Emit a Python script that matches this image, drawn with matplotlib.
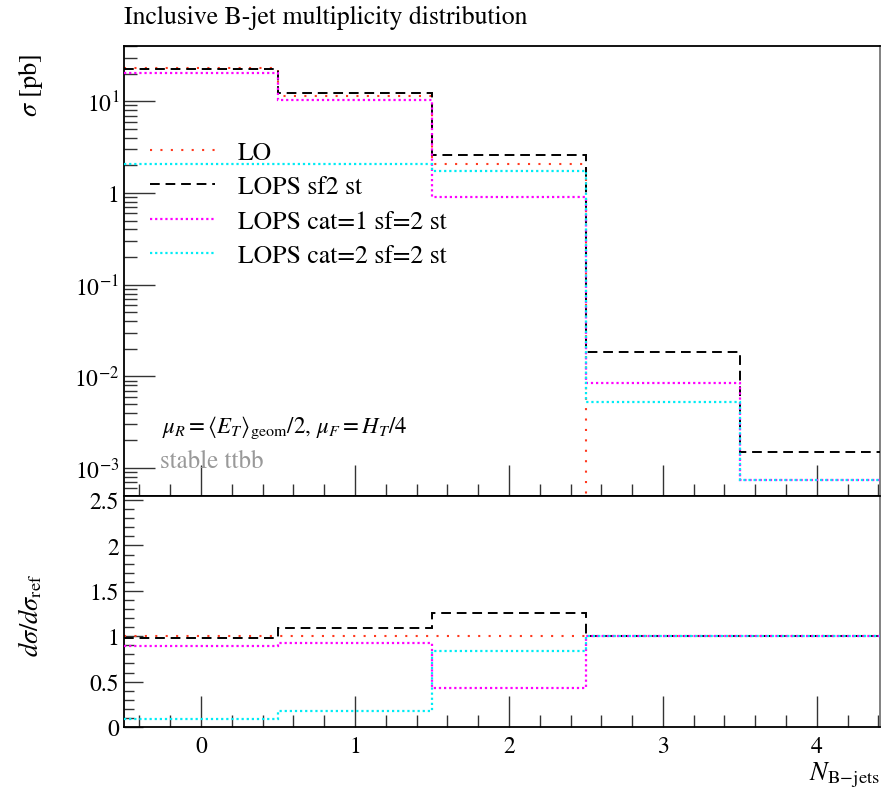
import numpy as np
import matplotlib
matplotlib.use("Agg")
import matplotlib.pyplot as plt
from matplotlib.ticker import FixedLocator, FuncFormatter, MultipleLocator, LogLocator, NullFormatter

plt.rcParams['font.family'] = ['STIXGeneral', 'DejaVu Serif']
plt.rcParams['mathtext.fontset'] = 'stix'

# ---- data ----
edges = [-0.5, 0.5, 1.5, 2.5, 3.5, 4.5]
xticks = [0, 1, 2, 3, 4]
labels = ["LO", "LOPS sf2 st", "LOPS cat=1 sf=2 st", "LOPS cat=2 sf=2 st"]
lo = [22.8, 11.3, 2.07, 0.0, 0.0]
lops_sf2 = [22.4, 12.3, 2.59, 0.0185, 0.00148]
lops_cat1 = [20.4, 10.4, 0.90, 0.0084, 0.000745]
lops_cat2 = [2.05, 2.05, 1.73, 0.00528, 0.000745]

series = [lo, lops_sf2, lops_cat1, lops_cat2]
colors = ['#ff3a1f', 'black', '#ff00ff', '#00ecf5']
styles = [(0, (1, 4)), (0, (5, 3)), (0, (1, 1.3)), (0, (1, 1.3))]
lws = [1.5, 1.4, 1.6, 1.6]

W, H = 892, 803
fig = plt.figure(figsize=(W / 100, H / 100), dpi=100)
L, R = 124, 880
T1, B1, B2 = 47, 497, 728
ax = fig.add_axes([L / W, 1 - B1 / H, (R - L) / W, (B1 - T1) / H])
rax = fig.add_axes([L / W, 1 - B2 / H, (R - L) / W, (B2 - B1) / H], sharex=ax)

ref = np.array(lo, dtype=float)
for i, (vals, c, ls, lw, lab) in enumerate(zip(series, colors, styles, lws, labels)):
    v = np.array(vals, dtype=float)
    vplot = np.where(v > 0, v, 1e-12)
    ax.stairs(vplot, edges, color=c, linestyle=ls, linewidth=lw, label=lab,
              zorder=2 + i, baseline=None)
    ratio = np.where(ref > 0, v / np.where(ref > 0, ref, 1), 1.0)
    rax.stairs(ratio, edges, color=c, linestyle=ls, linewidth=lw, zorder=2 + i,
               baseline=None)

ax.set_yscale('log')
ax.set_ylim(4.96e-4, 40.1)
ax.set_xlim(-0.5, 4.41)
rax.set_ylim(0, 2.545)

def logfmt(y, pos):
    e = int(round(np.log10(y)))
    if e == 0:
        return "1"
    return r"$10^{%d}$" % e

ax.yaxis.set_major_locator(LogLocator(base=10, numticks=20))
ax.yaxis.set_major_formatter(FuncFormatter(logfmt))
ax.yaxis.set_minor_locator(LogLocator(base=10, subs=np.arange(2, 10), numticks=50))
ax.yaxis.set_minor_formatter(NullFormatter())

for a in (ax, rax):
    a.xaxis.set_major_locator(FixedLocator(xticks))
    a.xaxis.set_minor_locator(MultipleLocator(0.2))
    a.tick_params(which='both', direction='in', top=False, right=False, labelsize=17, color='#333333')
    a.tick_params(which='major', length=22, width=1.0)
    a.tick_params(which='minor', length=9, width=1.0)
    for s in a.spines.values():
        s.set_linewidth(1.3)
    a.spines['right'].set_color('#777777')
plt.setp(ax.get_xticklabels(), visible=False)
rax.yaxis.set_major_locator(MultipleLocator(0.5))
rax.yaxis.set_minor_locator(MultipleLocator(0.1))
rax.tick_params(axis='y', which='major', length=14)
rax.tick_params(axis='y', which='minor', length=7)
rax.yaxis.set_major_formatter(FuncFormatter(lambda y, p: ("%g" % y)))
rax.tick_params(axis='x', pad=6)

ax.set_ylabel(r"$\sigma$ [pb]", fontsize=19, loc='top')
rax.set_ylabel(r"$d\sigma/d\sigma_{\mathrm{ref}}$", fontsize=19)
ax.yaxis.set_label_coords(-0.105, 0.985)
rax.yaxis.set_label_coords(-0.105, 0.49)
rax.set_xlabel(r"$N_{\mathrm{B\!-\!jets}}$", fontsize=19, loc='right', labelpad=2)

fig.text(L / W, 1 - 18 / H, "Inclusive B-jet multiplicity distribution", fontsize=18.5, va='center', ha='left')

ax.text(0.05, 1 - (428 - T1) / (B1 - T1),
        r"$\mu_R = \langle E_T\rangle_{\mathrm{geom}}/2,\, \mu_F = H_T/4$",
        transform=ax.transAxes, fontsize=16.5, va='center', ha='left')
ax.text(0.048, 1 - (462 - T1) / (B1 - T1), "stable ttbb", transform=ax.transAxes,
        fontsize=18, va='center', ha='left', color='#999999')

ax.legend(loc='upper left', bbox_to_anchor=(0.035, 1 - (142 - T1) / (B1 - T1)),
          frameon=False, fontsize=18.5, handlelength=2.5, handletextpad=0.9,
          labelspacing=0.4, borderaxespad=0, borderpad=0)

fig.savefig("out.png", dpi=100)
